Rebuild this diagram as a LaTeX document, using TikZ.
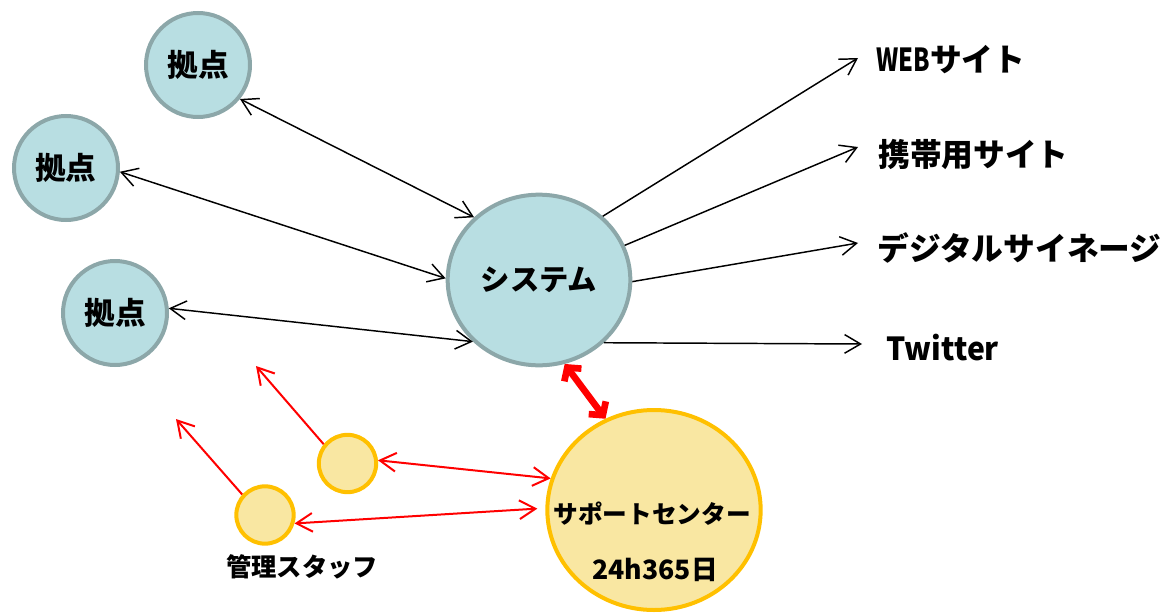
\documentclass[tikz,border=0pt]{standalone}
\usepackage{fontspec}
\setmainfont{Noto Sans CJK JP}
\usetikzlibrary{arrows.meta,shapes.geometric}
\definecolor{hubfill}{RGB}{184,222,226}
\definecolor{hubline}{RGB}{140,167,169}
\definecolor{supfill}{RGB}{249,231,162}
\definecolor{supline}{RGB}{255,192,0}
\begin{document}
\begin{tikzpicture}[x=0.75pt,y=-0.75pt,
 hub/.style={circle,draw=hubline,fill=hubfill,line width=3pt,minimum size=78pt,inner sep=0pt,font=\fontsize{23}{23}\selectfont\bfseries},
 sysnode/.style={ellipse,draw=hubline,fill=hubfill,line width=3pt,minimum width=137pt,minimum height=128pt,inner sep=0pt,font=\fontsize{22}{22}\selectfont\bfseries},
 supnode/.style={ellipse,draw=supline,fill=supfill,line width=3pt,minimum width=160pt,minimum height=150pt},
 staff/.style={circle,draw=supline,fill=supfill,line width=3pt,minimum size=43pt,inner sep=0pt},
 lbl/.style={anchor=west,inner sep=0pt,font=\fontsize{23.8}{24}\selectfont\bfseries},
 txt/.style={inner sep=0pt,font=\fontsize{#1}{#1}\selectfont\bfseries},
 barb/.tip={Straight Barb[length=12pt,width=14pt]},
 blk/.style={line width=1.1pt,-barb},
 blk2/.style={line width=1.1pt,barb-barb},
 redone/.style={draw=red,line width=1.5pt,-barb},
 redtwo/.style={draw=red,line width=1.5pt,barb-barb},
 redthick/.style={draw=red,line width=5pt,{Straight Barb[length=7pt,width=16pt]}-{Straight Barb[length=7pt,width=16pt]}}
]
\useasboundingbox (0,0) rectangle (1164,614);
\node[hub] (k1) at (198,65) {拠点};
\node[hub] (k2) at (66,168) {拠点};
\node[hub] (k3) at (115,313) {拠点};
\node[sysnode] (sys) at (539,280) {システム};
\node[supnode] (sup) at (654,510) {};
\node[txt=18.5] (supt) at (652,514) {サポートセンター};
\node[txt=20] (sup24) at (655,570) {24h365日};
\node[staff] (s1) at (347.5,463.5) {};
\node[staff] (s2) at (265,515) {};
\node[txt=19] (stl) at (302,567) {管理スタッフ};
\node[lbl] (web) at (876,60) {\scalebox{0.75}[1]{WEB}サイト};
\node[lbl] (mob) at (878,155) {携帯用サイト};
\node[lbl] (sig) at (877,248) {デジタルサイネージ};
\node[lbl] (tw) at (886,348) {\scalebox{0.95}[1]{Twitter}};
\coordinate (t1) at (858,58);
\coordinate (t2) at (858,147);
\coordinate (t3) at (858,243);
\coordinate (t4) at (862,344);
\coordinate (u1) at (256,366);
\coordinate (u2) at (176,419);
\draw[blk2] (k1.-39) -- (sys.136);
\draw[blk2] (k2.-4) -- (sys.179);
\draw[blk2] (k3.5) -- (sys.223);
\draw[blk] (sys.45) -- (t1);
\draw[blk] (sys.22) -- (t2);
\draw[blk] (sys.-1) -- (t3);
\draw[blk] (sys.-44) -- (t4);
\draw[redthick] (sys.-73) -- (sup.118);
\draw[redtwo] (s1.6) -- (sup.163);
\draw[redtwo,shorten >=6pt] (s2.-16) -- (sup.179);
\draw[redone] (s1.141) -- (u1);
\draw[redone] (s2.138) -- (u2);
\end{tikzpicture}
\end{document}
